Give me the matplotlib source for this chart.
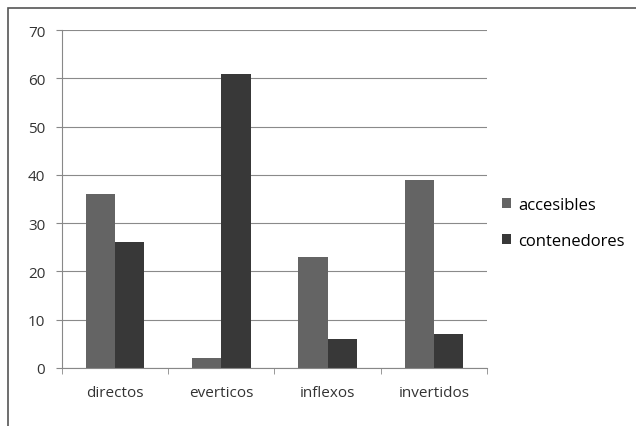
import numpy as np
import matplotlib.pyplot as plt
from matplotlib.patches import Rectangle

categorias = ['directos', 'everticos', 'inflexos', 'invertidos']
accesibles = [36, 2, 23, 39]
contenedores = [26, 61, 6, 7]
series = ['accesibles', 'contenedores']
colores = ['#646464', '#383838']

fig = plt.figure(figsize=(6.36, 4.27), dpi=100)
ax = fig.add_axes([0.0975, 0.136, 0.668, 0.791])

x = np.arange(len(categorias))
ancho = 0.275
ax.bar(x - ancho / 2, accesibles, ancho, color=colores[0], label=series[0])
ax.bar(x + ancho / 2, contenedores, ancho, color=colores[1], label=series[1])

ax.set_xlim(-0.5, len(categorias) - 0.5)
ax.set_ylim(0, 70)
ax.set_yticks(range(0, 71, 10))
ax.yaxis.grid(True, color='#8a8a8a', lw=0.8)
ax.set_axisbelow(True)

ax.set_xticks(x)
ax.set_xticklabels(categorias, fontsize=11, family='Open Sans', color='#333333')
ax.set_xticks(np.arange(-0.5, len(categorias)), minor=True)
ax.tick_params(axis='x', which='major', length=0, pad=12)
ax.tick_params(axis='x', which='minor', length=4, color='#888888')
ax.tick_params(axis='y', labelsize=11, length=4, color='#888888', labelcolor='#333333', pad=8)
for lab in ax.get_yticklabels():
    lab.set_family('Open Sans')

for lado in ['top', 'right']:
    ax.spines[lado].set_visible(False)
ax.spines['left'].set_color('#888888')
ax.spines['bottom'].set_color('#888888')

ax.legend(loc='center left', bbox_to_anchor=(1.0, 0.43), frameon=False,
          handlelength=0.55, handleheight=0.55, handletextpad=0.45, labelspacing=1.2,
          prop={'family': 'Open Sans', 'size': 12})

# marco del grafico
fig.patches.append(Rectangle((0.012, -0.05), 1.2, 1.03, transform=fig.transFigure,
                             fill=False, edgecolor='#555555', lw=1.2))

fig.savefig('out.png', dpi=100)
